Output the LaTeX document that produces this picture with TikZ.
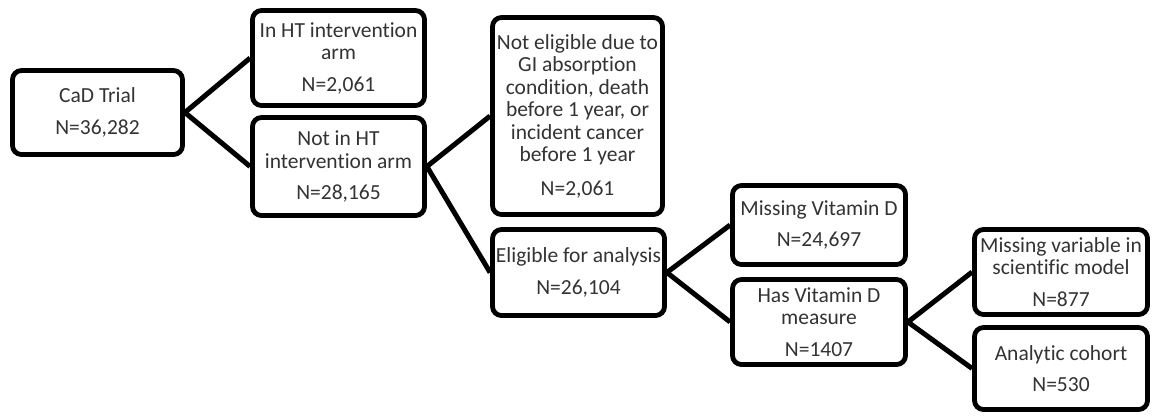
\documentclass[tikz,border=0pt]{standalone}
\usepackage{fontspec}
\setmainfont{Carlito}[Ligatures={NoCommon}]
\usetikzlibrary{shadows}
\begin{document}
\begin{tikzpicture}[x=1pt,y=-1pt,
  box/.style={draw, fill=white, line width=4.8pt, rounded corners=9pt, align=center, inner sep=1pt,
    font=\fontsize{21.5}{22.5}\selectfont, text=black!80,
    general shadow={fill=black, shadow xshift=1.2pt, shadow yshift=-1.6pt}},
  link/.style={line width=5pt}]
\useasboundingbox (0,0) rectangle (1153,416);
\node[box, minimum width=170pt, minimum height=84pt] (cad) at (97.5,112.5) {CaD Trial\\[9pt]N=36,282};
\node[box, minimum width=172pt, minimum height=95pt] (inht) at (338.5,58) {In HT intervention\\arm\\[9pt]N=2,061};
\node[box, minimum width=172pt, minimum height=98pt] (notinht) at (338.5,166.5) {Not in HT\\intervention arm\\[9pt]N=28,165};
\node[box, minimum width=170pt, minimum height=197pt] (notelig) at (577.5,116) {Not eligible due to\\GI absorption\\condition, death\\before 1 year, or\\incident cancer\\before 1 year\\[11pt]N=2,061};
\node[box, minimum width=172pt, minimum height=86pt] (elig) at (578.5,272.5) {Eligible for analysis\\[9pt]N=26,104};
\node[box, minimum width=173pt, minimum height=79pt] (missvd) at (819,225) {Missing Vitamin D\\[9pt]N=24,697};
\node[box, minimum width=173pt, minimum height=85pt] (hasvd) at (819,322) {Has Vitamin D\\measure\\[9pt]N=1407};
\node[box, minimum width=173pt, minimum height=85pt] (missvar) at (1061,272) {Missing variable in\\scientific model\\[9pt]N=877};
\node[box, minimum width=173pt, minimum height=82pt] (analytic) at (1061,368.5) {Analytic cohort\\[9pt]N=530};
\draw[link] (cad.east) -- (inht.west);
\draw[link] (cad.east) -- (notinht.west);
\draw[link] (notinht.east) -- (notelig.west);
\draw[link] (notinht.east) -- (elig.west);
\draw[link] (elig.east) -- (missvd.west);
\draw[link] (elig.east) -- (hasvd.west);
\draw[link] (hasvd.east) -- (missvar.west);
\draw[link] (hasvd.east) -- (analytic.west);
\end{tikzpicture}
\end{document}
